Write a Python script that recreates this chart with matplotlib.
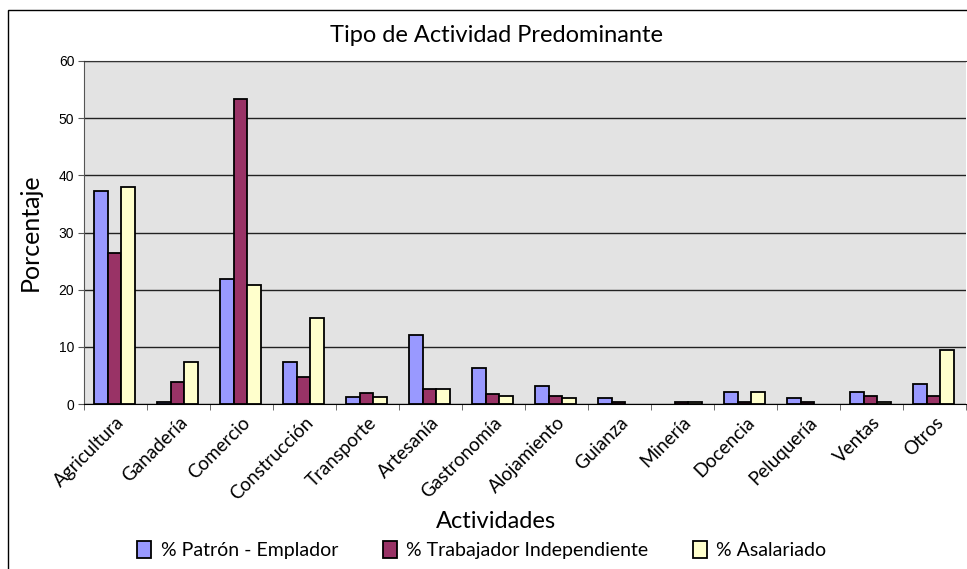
import matplotlib
matplotlib.use("Agg")
import matplotlib.pyplot as plt
import numpy as np
from matplotlib.patches import Rectangle

categories = ["Agricultura", "Ganadería", "Comercio", "Construcción", "Transporte",
              "Artesanía", "Gastronomía", "Alojamiento", "Guianza", "Minería",
              "Docencia", "Peluquería", "Ventas", "Otros"]
patron = [37.2, 0.3, 21.9, 7.3, 1.3, 12.1, 6.3, 3.2, 1.1, 0.0, 2.1, 1.1, 2.1, 3.5]
independiente = [26.5, 3.8, 53.4, 4.8, 2.0, 2.7, 1.7, 1.4, 0.4, 0.35, 0.4, 0.4, 1.4, 1.4]
asalariado = [37.9, 7.3, 20.9, 15.0, 1.3, 2.7, 1.4, 1.1, 0.0, 0.35, 2.1, 0.0, 0.4, 9.4]
series_labels = ["% Patrón - Emplador", "% Trabajador Independiente", "% Asalariado"]
colors = ["#9999FF", "#993366", "#FFFFCC"]
yticks = [0, 10, 20, 30, 40, 50, 60]

W, H = 967, 569
fig = plt.figure(figsize=(W / 100, H / 100), dpi=100)
font = ["Lato", "DejaVu Sans"]

# outer chart border
fig.patches.append(Rectangle((8 / W, -0.01), 1.02, 1 - 10 / H + 0.01,
                             transform=fig.transFigure, fill=False,
                             edgecolor="black", linewidth=1.0))

ax = fig.add_axes([84 / W, 1 - 404 / H, (966 - 84) / W, (404 - 61) / H])
ax.set_facecolor("#E3E3E3")

x = np.arange(len(categories))
bw = 0.22
for i, (vals, c, lab) in enumerate(zip([patron, independiente, asalariado], colors, series_labels)):
    v = np.array(vals, dtype=float)
    v = np.where(v > 0, v, np.nan)
    ax.bar(x + (i - 1) * bw - 0.015, v, width=bw, color=c, edgecolor="black",
           linewidth=1.3, label=lab, zorder=3)

ax.set_xlim(-0.5, len(categories) - 0.5)
ax.set_ylim(0, 60)
ax.set_yticks(yticks)
ax.set_yticklabels([str(v) for v in yticks], fontsize=10, family="Liberation Sans")
ax.yaxis.grid(True, color="#222222", linewidth=1.0, zorder=1)
ax.set_axisbelow(True)

ax.set_xticks(x)
ax.set_xticklabels(categories, rotation=45, ha="right", rotation_mode="anchor",
                   fontsize=13.5, family=font)
ax.tick_params(axis="x", length=0, pad=7)
ax.set_xticks(np.arange(-0.5, len(categories), 1), minor=True)
ax.tick_params(axis="x", which="minor", length=4, color="#555555")
ax.tick_params(axis="y", length=4, color="#555555", pad=3)

ax.spines["left"].set_color("#555555")
ax.spines["bottom"].set_color("black")
ax.spines["top"].set_color("#333333")
ax.spines["right"].set_visible(False)

fig.text(497 / W, 1 - 35 / H, "Tipo de Actividad Predominante", ha="center", va="center",
         fontsize=17, family=font)
fig.text(30 / W, 1 - 232 / H, "Porcentaje", ha="center", va="center", rotation=90,
         fontsize=18, family=font)
fig.text(496 / W, 1 - 521 / H, "Actividades", ha="center", va="center",
         fontsize=17, family=font)

leg = fig.legend(loc="center", bbox_to_anchor=(482 / W, 1 - 550 / H), ncol=3, frameon=False,
                 prop={"family": font, "size": 14}, handlelength=0.7, handleheight=1.0,
                 columnspacing=2.3, handletextpad=0.5)

fig.savefig("out.png", dpi=100)
